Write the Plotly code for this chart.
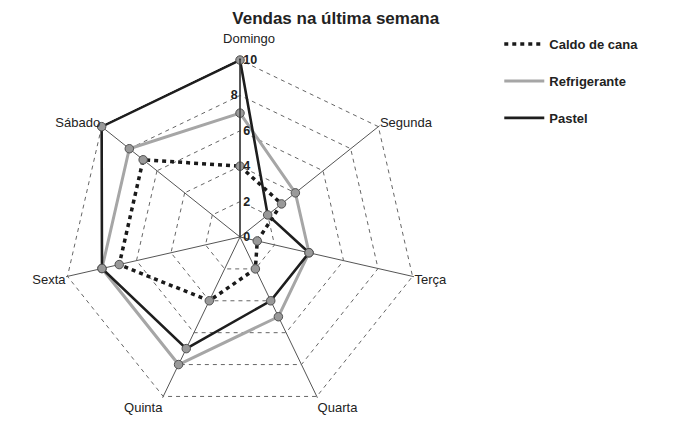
import plotly.graph_objects as go

# weekly sales
dias = ["Domingo", "Segunda", "Terça", "Quarta", "Quinta", "Sexta", "Sábado"]
caldo = [4, 3, 1, 2, 4, 7, 7]
refri = [7, 4, 4, 5, 8, 8, 8]
pastel = [10, 2, 4, 4, 7, 8, 10]
radial_ticks = [0, 2, 4, 6, 8, 10]

SERIES = [
    ("Caldo de cana", caldo, dict(color="#1a1a1a", width=3.5, dash="4px,4px")),
    ("Refrigerante", refri, dict(color="#a6a6a6", width=3)),
    ("Pastel", pastel, dict(color="#1e1e1e", width=2.6)),
]

FONT = "Liberation Sans, Arial, sans-serif"
DOMAIN = dict(x=[0.0777, 0.5948], y=[0.0346, 0.8801])
# a little past 10 so plotly keeps the outer dashed ring
R_MAX = radial_ticks[-1] + 0.08

fig = go.Figure()
for name, vals, line in SERIES:
    fig.add_trace(
        go.Scatterpolar(
            r=vals + vals[:1],
            theta=dias + dias[:1],
            name=name,
            legendgroup=name,
            mode="lines",
            line=line,
            cliponaxis=False,
            hoverinfo="skip",
        )
    )

# markers on top of all lines, kept out of the legend
for name, vals, _line in SERIES:
    fig.add_trace(
        go.Scatterpolar(
            r=vals,
            theta=dias,
            legendgroup=name,
            showlegend=False,
            mode="markers",
            marker=dict(size=8.5, color="#999999", line=dict(color="#505050", width=1)),
            cliponaxis=False,
            hoverinfo="skip",
        )
    )

# arrow tip on the Domingo axis
fig.add_trace(
    go.Scatterpolar(
        r=[10, 10.6],
        theta=[dias[0], dias[0]],
        mode="lines",
        line=dict(color="#222", width=1.3),
        showlegend=False,
        cliponaxis=False,
        hoverinfo="skip",
    )
)
fig.add_trace(
    go.Scatterpolar(
        r=[10.6],
        theta=[dias[0]],
        mode="markers",
        marker=dict(symbol="triangle-up", size=7, color="#222"),
        showlegend=False,
        cliponaxis=False,
        hoverinfo="skip",
    )
)

# invisible trace so the overlay polar (Domingo label, "8" tick) knows its categories
fig.add_trace(
    go.Scatterpolar(
        r=[0] * len(dias),
        theta=dias,
        subplot="polar2",
        mode="markers",
        marker=dict(size=0, opacity=0),
        showlegend=False,
        hoverinfo="skip",
    )
)

angular_common = dict(
    rotation=90,
    direction="clockwise",
    showline=False,
    tickmode="array",
    tickvals=dias,
    tickcolor="rgba(0,0,0,0)",
    tickfont=dict(size=13, color="#222"),
)
radial_font = dict(size=12.5, color="#222", weight="bold")
left_tick = 8  # this one sits left of the axis in the original

fig.update_layout(
    width=690,
    height=422,
    margin=dict(l=0, r=0, t=0, b=0),
    paper_bgcolor="white",
    plot_bgcolor="white",
    font=dict(family=FONT, size=13, color="#222"),
    title=dict(
        text="<b>Vendas na última semana</b>",
        x=0.475,
        xanchor="center",
        y=0.976,
        yanchor="middle",
        font=dict(size=17, color="#222"),
    ),
    showlegend=True,
    legend=dict(
        x=0.712,
        y=0.95,
        xanchor="left",
        yanchor="top",
        font=dict(size=13, color="#222", family=FONT, weight="bold"),
        tracegroupgap=17,
        itemwidth=40,
        bgcolor="rgba(0,0,0,0)",
    ),
    polar=dict(
        domain=DOMAIN,
        bgcolor="white",
        gridshape="linear",
        angularaxis=dict(
            **angular_common,
            ticktext=[""] + dias[1:],
            showgrid=True,
            gridcolor="#555",
            gridwidth=1,
            ticks="",
        ),
        radialaxis=dict(
            range=[0, R_MAX],
            tickmode="array",
            tickvals=radial_ticks,
            ticktext=["" if t == left_tick else str(t) for t in radial_ticks],
            showline=True,
            linecolor="#333",
            linewidth=1.4,
            angle=90,
            side="clockwise",
            ticks="",
            showgrid=True,
            gridcolor="#666",
            griddash="4px,4px",
            gridwidth=0.8,
            tickfont=radial_font,
            tickangle=90,
        ),
    ),
    polar2=dict(
        domain=DOMAIN,
        bgcolor="rgba(0,0,0,0)",
        gridshape="linear",
        angularaxis=dict(
            **angular_common,
            ticktext=["\u00a0" * 5 + dias[0]] + [""] * (len(dias) - 1),
            showgrid=False,
            ticks="outside",
            ticklen=10,
        ),
        radialaxis=dict(
            range=[0, R_MAX],
            tickmode="array",
            tickvals=[left_tick],
            ticktext=[str(left_tick)],
            angle=90,
            side="counterclockwise",
            showline=False,
            showgrid=False,
            ticks="",
            tickfont=radial_font,
            tickangle=90,
        ),
    ),
)

fig.write_html("out.html")
